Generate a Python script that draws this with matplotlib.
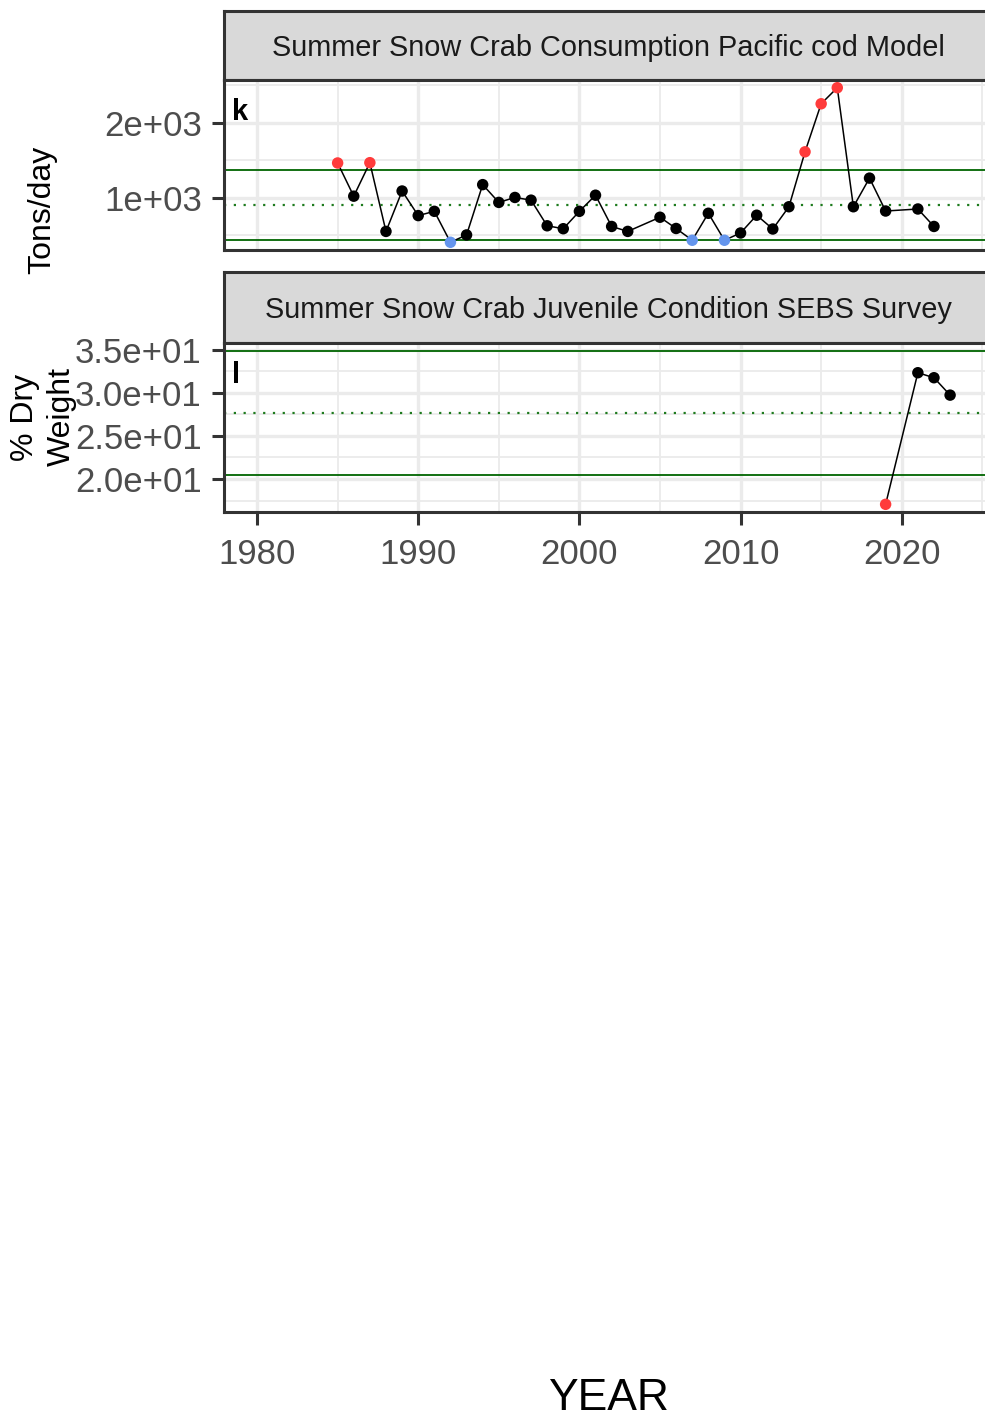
import matplotlib
matplotlib.use("Agg")
import matplotlib.pyplot as plt
import numpy as np

plt.rcParams['font.family'] = ['Liberation Sans', 'DejaVu Sans']

# ---------------- data ----------------
k_title = "Summer Snow Crab Consumption Pacific cod Model"
k_years = [1985, 1986, 1987, 1988, 1989, 1990, 1991, 1992, 1993, 1994, 1995,
           1996, 1997, 1998, 1999, 2000, 2001, 2002, 2003, 2005, 2006, 2007,
           2008, 2009, 2010, 2011, 2012, 2013, 2014, 2015, 2016, 2017, 2018,
           2019, 2021, 2022]
k_values = [1463, 1020, 1467, 550, 1089, 761, 818, 405, 503, 1174, 937,
            1003, 967, 625, 586, 818, 1033, 616, 550, 739, 589, 432,
            792, 432, 529, 766, 582, 879, 1612, 2253, 2467, 879, 1261,
            822, 849, 616]
k_flags = ['hi', 'n', 'hi', 'n', 'n', 'n', 'n', 'lo', 'n', 'n', 'n',
           'n', 'n', 'n', 'n', 'n', 'n', 'n', 'n', 'n', 'n', 'lo',
           'n', 'lo', 'n', 'n', 'n', 'n', 'hi', 'hi', 'hi', 'n', 'n',
           'n', 'n', 'n']
k_mean, k_upper, k_lower = 908, 1375, 441
k_yticks = [1000, 2000]
k_yticklabels = ["1e+03", "2e+03"]
k_ylabel = "Tons/day"
k_letter = "k"

l_title = "Summer Snow Crab Juvenile Condition SEBS Survey"
l_years = [2019, 2021, 2022, 2023]
l_values = [17.06, 32.34, 31.76, 29.74]
l_flags = ['hi', 'n', 'n', 'n']
l_mean, l_upper, l_lower = 27.7, 34.9, 20.5
l_yticks = [20, 25, 30, 35]
l_yticklabels = ["2.0e+01", "2.5e+01", "3.0e+01", "3.5e+01"]
l_ylabel = "% Dry\nWeight"
l_letter = "l"

x_ticks = [1980, 1990, 2000, 2010, 2020]
x_label = "YEAR"

flag_colors = {'hi': '#FF3B3B', 'lo': '#6495ED', 'n': 'black'}

# ---------------- layout ----------------
W, H = 985, 1416
fig = plt.figure(figsize=(W / 100, H / 100), dpi=100)

def rect(left, right, top, bottom):
    return [left / W, 1 - bottom / H, (right - left) / W, (bottom - top) / H]

X_LEFT, X_RIGHT = 224, 992
XLIM = (1977.95, 2025.6)
BORDER = '#333333'
GRID = '#EBEBEB'

def strip(top, bottom, title):
    s = fig.add_axes(rect(X_LEFT, X_RIGHT, top, bottom))
    s.set_facecolor('#D9D9D9')
    s.set_xticks([]); s.set_yticks([])
    for sp in s.spines.values():
        sp.set_color(BORDER); sp.set_linewidth(2.2)
    s.text(0.5, 0.47, title, transform=s.transAxes, ha='center', va='center',
           fontsize=20.8, color='#1A1A1A')

def panel(top, bottom, years, values, flags, mean, upper, lower, yticks,
          yticklabels, letter, show_x):
    ax = fig.add_axes(rect(X_LEFT, X_RIGHT, top, bottom))
    ax.set_facecolor('white')
    lo = min(min(values), lower, upper)
    hi = max(max(values), lower, upper)
    span = hi - lo
    ylim = (lo - 0.05 * span, hi + 0.05 * span)
    # grid
    minor_x = [t + 5 for t in x_ticks] + [x_ticks[0] - 5]
    step = yticks[1] - yticks[0]
    minor_y = [t + step / 2 for t in [yticks[0] - step] + list(yticks)]
    for xv in minor_x:
        ax.axvline(xv, color=GRID, lw=1.3, zorder=0)
    for yv in minor_y:
        ax.axhline(yv, color=GRID, lw=1.3, zorder=0)
    for xv in x_ticks:
        ax.axvline(xv, color=GRID, lw=2.4, zorder=0)
    for yv in yticks:
        ax.axhline(yv, color=GRID, lw=2.4, zorder=0)
    # reference lines
    ax.axhline(upper, color='#006400', lw=1.3, zorder=2)
    ax.axhline(lower, color='#006400', lw=1.3, zorder=2)
    ax.axhline(mean, color='#1E7B1E', lw=1.6, ls=(0, (1, 3.4)), zorder=2)
    # series
    ax.plot(years, values, color='black', lw=1.1, zorder=3)
    cols = [flag_colors[f] for f in flags]
    ax.scatter(years, values, c=cols, s=68, zorder=4, linewidths=0)
    ax.set_ylim(*ylim)
    ax.set_xlim(*XLIM)
    # ticks
    ax.set_yticks(yticks)
    ax.set_yticklabels(yticklabels)
    ax.set_xticks(x_ticks)
    ax.tick_params(axis='both', length=9, width=2.2, color=BORDER,
                   labelsize=25, labelcolor='#4D4D4D', pad=7)
    if not show_x:
        ax.tick_params(axis='x', length=0, labelbottom=False)
    ax.tick_params(axis='x', pad=10)
    for sp in ax.spines.values():
        sp.set_color(BORDER); sp.set_linewidth(2.2); sp.set_zorder(5)
    ax.annotate(letter, xy=(0, 1), xycoords='axes fraction',
                xytext=(6, -13), textcoords='offset points',
                ha='left', va='top', fontsize=21, fontweight='bold',
                color='black')
    return ax

strip(11, 80, k_title)
panel(80, 250, k_years, k_values, k_flags, k_mean, k_upper, k_lower,
      k_yticks, k_yticklabels, k_letter, False)
strip(272, 343, l_title)
panel(343, 512, l_years, l_values, l_flags, l_mean, l_upper, l_lower,
      l_yticks, l_yticklabels, l_letter, True)

fig.text(42 / W, 1 - 210 / H, k_ylabel, rotation=90, ha='center',
         va='center', fontsize=23, color='black')
fig.text(43 / W, 1 - 417 / H, l_ylabel, rotation=90, ha='center',
         va='center', fontsize=23, color='black', linespacing=1.3,
         multialignment='center')
fig.text(608 / W, 1 - 1398 / H, x_label, ha='center', va='center',
         fontsize=32, color='black')

fig.savefig('out.png', dpi=100)
